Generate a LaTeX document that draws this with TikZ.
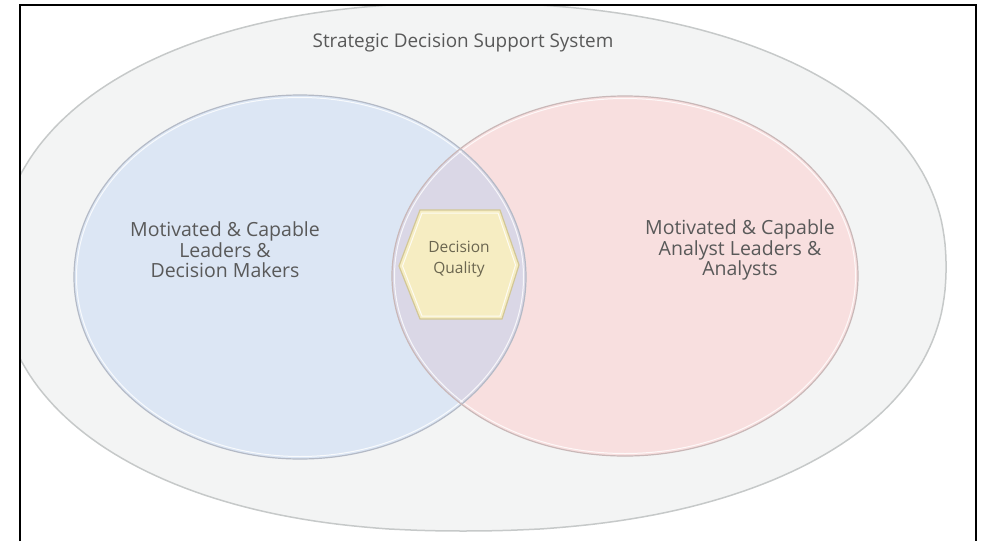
\documentclass[tikz,border=0pt]{standalone}
\usepackage{fontspec}
\setmainfont{Open Sans}
\usetikzlibrary{shapes.geometric}
\definecolor{outerfill}{HTML}{F3F4F4}
\definecolor{outeredge}{HTML}{C6C9C9}
\definecolor{bluefill}{HTML}{DCE6F4}
\definecolor{blueedge}{HTML}{B4BAC6}
\definecolor{pinkfill}{HTML}{F8DFDF}
\definecolor{pinkedge}{HTML}{C9B8B8}
\definecolor{lensfill}{HTML}{DAD7E6}
\definecolor{hexfill}{HTML}{F6EDC2}
\definecolor{hexedge}{HTML}{D2C796}
\definecolor{txt}{HTML}{595959}
\definecolor{hextxt}{HTML}{6B6650}
\begin{document}
\begin{tikzpicture}[x=1pt,y=-1pt,
  venn/.style={ellipse, inner sep=0pt, draw=none},
  label/.style={align=center, text=txt, font=\fontsize{19.5}{20.5}\selectfont},
  titlelabel/.style={text=txt, font=\fontsize{18.9}{20}\selectfont},
  hexlabel/.style={align=center, text=hextxt, font=\fontsize{15.5}{20.5}\selectfont},
  frameline/.style={line width=2pt, black}]
\useasboundingbox (0,0) rectangle (982,541);
\begin{scope}
  \clip (20,5) rectangle (976,541);
  % outer container (slightly squarish ellipse)
  \filldraw[fill=outerfill, draw=outeredge, line width=1.5pt]
    plot[domain=-89.95:89.95, samples=120]
      ({463+483*sign(cos(\x))*pow(abs(cos(\x)),0.909)},{267+264*sign(sin(\x))*pow(abs(sin(\x)),0.909)})
    -- plot[domain=90.05:269.95, samples=120]
      ({463+464*sign(cos(\x))*pow(abs(cos(\x)),0.909)},{267+264*sign(sin(\x))*pow(abs(sin(\x)),0.909)})
    -- cycle;
  % venn circles
  \node[venn, fill=bluefill, minimum width=452pt, minimum height=364pt] (blue) at (300,277) {};
  \node[venn, fill=pinkfill, minimum width=466pt, minimum height=360pt] (pink) at (625,276) {};
  \begin{scope}
    \clip (300,277) ellipse [x radius=226pt, y radius=182pt];
    \fill[lensfill] (625,276) ellipse [x radius=233pt, y radius=180pt];
  \end{scope}
  \draw[white, line width=1pt, opacity=0.8] (300,277) ellipse [x radius=223.5pt, y radius=179.5pt];
  \draw[white, line width=1pt, opacity=0.8] (625,276) ellipse [x radius=230.5pt, y radius=177.5pt];
  \draw[blueedge, line width=1.2pt] (300,277) ellipse [x radius=226pt, y radius=182pt];
  \draw[pinkedge, line width=1.2pt] (625,276) ellipse [x radius=233pt, y radius=180pt];
  % hexagon
  \filldraw[fill=hexfill, draw=hexedge, line width=1.2pt]
    (399,266) -- (420,210) -- (500,210) -- (519,265) -- (502,319) -- (420,319) -- cycle;
  \draw[white, line width=1pt, opacity=0.8]
    (402.5,266) -- (422,213) -- (498,213) -- (515.5,265) -- (500,316) -- (422,316) -- cycle;
\end{scope}
% texts
\node[titlelabel, anchor=base] (title) at (463,47) {Strategic Decision Support System};
\node[label] (left) at (225,250) {Motivated \& Capable\\Leaders \&\\Decision Makers};
\node[label] (right) at (740,250) {Motivated \& Capable\\Analyst Leaders \&\\Analysts};
\node[hexlabel] (dq) at (459,259) {Decision\\Quality};
% frame
\draw[frameline] (20,541) -- (20,5) -- (976,5) -- (976,541);
\end{tikzpicture}
\end{document}
